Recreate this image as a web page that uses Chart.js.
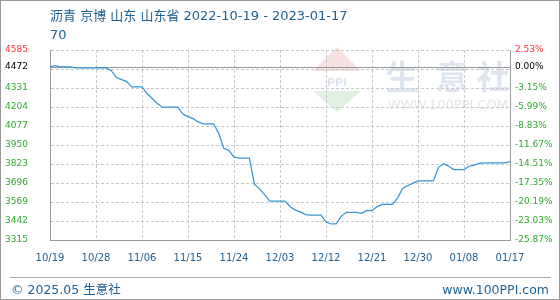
<!DOCTYPE html>
<html><head><meta charset="utf-8">
<script src="https://cdn.jsdelivr.net/npm/chart.js@4"></script>
<style>html,body{margin:0;padding:0;background:#fff}#wrap{width:560px;height:300px;position:relative}canvas{display:block}</style>
</head><body><div id="wrap"><canvas id="c" width="560" height="300"></canvas></div>
<script>
const titleText = '沥青 京博 山东 山东省 2022-10-19 - 2023-01-17';
const subTitleText = '70';
const footerLeft = '© 2025.05 生意社';
const footerRight = 'www.100PPI.com';
const xTickLabels = ['10/19','10/28','11/06','11/15','11/24','12/03','12/12','12/21','12/30','01/08','01/17'];
const prices = [
  4472,4480,4472,4472,4472,4465,4465,4465,4465,4465,
  4465,4465,4447,4401,4387,4374,4338,4338,4338,4294,
  4261,4227,4203,4203,4203,4203,4157,4140,4126,4104,
  4092,4092,4092,4028,3928,3914,3869,3863,3863,3863,
  3688,3657,3616,3575,3575,3575,3575,3537,3515,3503,
  3485,3482,3482,3482,3435,3422,3422,3475,3500,3500,
  3500,3493,3513,3511,3538,3553,3553,3553,3595,3661,
  3678,3695,3710,3710,3710,3710,3801,3825,3808,3786,
  3786,3786,3808,3815,3828,3830,3830,3830,3830,3830,
  3839
];
const baseValue = 4472;
const yTicks = [3315,3442,3569,3696,3823,3950,4077,4204,4331,4458,4472,4585];
const hiddenTick = 4458;
const yMin = 3315, yMax = 4585;

const BLUE_TXT = '#1e6192';
const GREEN = '#2eaa2e';
const RED = '#ff3333';

function tickColor(ctx){
  const v = ctx.tick ? ctx.tick.value : null;
  if (v === yMax) return RED;
  if (v === baseValue) return '#000';
  return GREEN;
}

const decor = {
  id: 'decor',
  beforeDraw(chart){
    const ctx = chart.ctx;
    ctx.save();
    ctx.fillStyle = '#fff';
    ctx.fillRect(0,0,chart.width,chart.height);
    // watermark
    ctx.fillStyle = 'rgba(242,200,200,0.55)';
    ctx.beginPath(); ctx.moveTo(337,47); ctx.lineTo(361,71); ctx.lineTo(313,71); ctx.closePath(); ctx.fill();
    ctx.fillStyle = 'rgba(200,230,200,0.55)';
    ctx.beginPath(); ctx.moveTo(313,91); ctx.lineTo(361,91); ctx.lineTo(337,112); ctx.closePath(); ctx.fill();
    ctx.fillStyle = 'rgba(195,208,230,0.55)';
    ctx.font = 'bold 11px "DejaVu Sans"';
    ctx.textAlign = 'center'; ctx.textBaseline = 'alphabetic';
    ctx.fillText('PPI', 337, 86);
    ctx.fillStyle = 'rgba(210,218,232,0.7)';
    ctx.font = 'bold 33px "Noto Sans CJK SC"';
    ctx.fillText('生', 402, 89);
    ctx.fillText('意', 452, 89);
    ctx.fillText('社', 493, 89);
    ctx.fillStyle = 'rgba(222,222,222,0.8)';
    ctx.font = '13px "DejaVu Sans"';
    ctx.textAlign = 'right';
    ctx.fillText('WWW.100PPI.COM', 508, 109);
    ctx.restore();
  },
  beforeDatasetsDraw(chart){
    const ctx = chart.ctx, a = chart.chartArea;
    const y = Math.round(chart.scales.y.getPixelForValue(baseValue)) + 0.5;
    ctx.save();
    ctx.strokeStyle = '#999'; ctx.lineWidth = 1;
    ctx.beginPath(); ctx.moveTo(a.left, y); ctx.lineTo(a.right, y); ctx.stroke();
    ctx.restore();
  },
  afterDraw(chart){
    const ctx = chart.ctx;
    ctx.save();
    ctx.fillStyle = BLUE_TXT;
    ctx.font = '13px "DejaVu Sans", "Noto Sans CJK SC"';
    ctx.textAlign = 'left'; ctx.textBaseline = 'alphabetic';
    ctx.fillText(titleText, 50, 20);
    ctx.fillText(subTitleText, 50, 39);
    // footer
    ctx.strokeStyle = '#aaa'; ctx.lineWidth = 1;
    ctx.beginPath(); ctx.moveTo(10, 277.5); ctx.lineTo(551, 277.5); ctx.stroke();
    ctx.font = '12.5px "DejaVu Sans", "Noto Sans CJK SC"';
    ctx.fillText(footerLeft, 11, 294);
    ctx.textAlign = 'right';
    ctx.fillText(footerRight, 549, 294);
    // frame
    ctx.strokeStyle = '#999';
    ctx.strokeRect(0.5, 0.5, chart.width-1, chart.height-1);
    ctx.restore();
  }
};

new Chart(document.getElementById('c'), {
  type: 'line',
  data: {
    datasets: [{
      data: prices.map((v,i)=>({x:i, y:v})),
      borderColor: '#3396d8',
      borderWidth: 1.25,
      pointRadius: 0,
      tension: 0,
      fill: false
    }]
  },
  options: {
    responsive: false,
    animation: false,
    devicePixelRatio: 1,
    layout: { padding: { top: 50, left: 0, right: 0, bottom: 0 } },
    plugins: { legend: { display: false }, tooltip: { enabled: false }, title: { display: false } },
    scales: {
      x: {
        type: 'linear', min: 0, max: prices.length - 1, position: 'bottom',
        afterBuildTicks(s){ s.ticks = xTickLabels.map((_,i)=>({value: i*9})); },
        afterFit(s){ s.height = 60; },
        ticks: {
          autoSkip: false, maxRotation: 0, padding: 12,
          color: BLUE_TXT, font: { family: 'DejaVu Sans', size: 10 },
          callback(v, i){ return xTickLabels[i]; }
        },
        grid: { color: '#c8c8c8', drawTicks: false, lineWidth: 1 },
        border: { display: true, color: '#999', width: 1, dash: [3,2] }
      },
      y: {
        type: 'linear', min: yMin, max: yMax, position: 'left',
        afterBuildTicks(s){ s.ticks = yTicks.map(v=>({value: v})); },
        afterFit(s){ s.width = 50; },
        ticks: {
          padding: 22, color: tickColor,
          font: { family: 'DejaVu Sans', size: 9 },
          callback(v){ return v === hiddenTick ? '' : String(v); }
        },
        grid: {
          color: (ctx)=> (ctx.tick && ctx.tick.value === baseValue) ? 'rgba(0,0,0,0)' : '#c8c8c8',
          drawTicks: false, lineWidth: 1
        },
        border: { display: true, color: '#999', width: 1, dash: [3,2] }
      },
      y2: {
        type: 'linear', min: yMin, max: yMax, position: 'right',
        afterBuildTicks(s){ s.ticks = yTicks.map(v=>({value: v})); },
        afterFit(s){ s.width = 50; },
        ticks: {
          padding: 5, color: tickColor,
          font: { family: 'DejaVu Sans', size: 9 },
          callback(v){ return v === hiddenTick ? '' : ((v - baseValue) / baseValue * 100).toFixed(2) + '%'; }
        },
        grid: { display: false, drawOnChartArea: false, drawTicks: false },
        border: { display: true, color: '#999', width: 1 }
      }
    }
  },
  plugins: [decor]
});
</script>
</body></html>
